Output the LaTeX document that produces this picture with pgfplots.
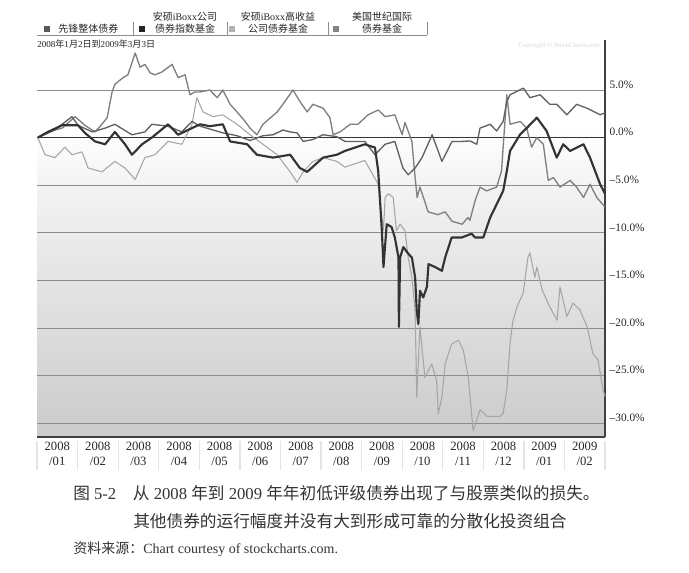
\documentclass[border=0pt]{standalone}
\usepackage{pgfplots}
\pgfplotsset{compat=1.18}
\usepackage{fontspec}
\setmainfont{Liberation Serif}
\newfontfamily\cjk{Noto Sans CJK SC}
\pgfdeclareverticalshading{chartbg}{100bp}{color(0bp)=(black!31); color(30bp)=(black!18); color(56bp)=(black!5); color(64bp)=(white); color(100bp)=(white)}
\begin{document}
\begin{tikzpicture}
\path[use as bounding box] (0,0) rectangle (516.75pt,-429pt);
\begin{axis}[
  at={(27.75pt,-327.75pt)}, anchor=south west,
  width=426pt, height=297.75pt, scale only axis,
  xmin=0, xmax=14, ymin=-31.47, ymax=10.26,
  axis x line*=bottom, axis y line*=right,
  axis line style={black!75, line width=0.9pt},
  xtick={0.5,1.5,2.5,3.5,4.5,5.5,6.5,7.5,8.5,9.5,10.5,11.5,12.5,13.5},
  xticklabels={2008\\/01,2008\\/02,2008\\/03,2008\\/04,2008\\/05,2008\\/06,2008\\/07,2008\\/08,2008\\/09,2008\\/10,2008\\/11,2008\\/12,2009\\/01,2009\\/02},
  xticklabel style={align=center, font=\fontsize{9.5}{11.25}\selectfont, text=black!85},
  xtick style={draw=none},
  ytick style={draw=none},
  major tick length=0pt,
  ymajorgrids, major grid style={black!45, line width=0.5pt},
  ytick={-30,-25,-20,-15,-10,-5,5},
  yticklabels={–30.0\%,–25.0\%,–20.0\%,–15.0\%,–10.0\%,–5.0\%,5.0\%},
  extra y ticks={0}, extra y tick labels={0.0\%},
  extra y tick style={ymajorgrids=true, major grid style={black!80, line width=1.3pt}},
  yticklabel style={font=\fontsize{8.5}{10}\selectfont, text=black!85, yshift=4pt},
  axis background/.style={shade, shading=chartbg},
  clip=false,
]
% 安硕iBoxx高收益公司债券基金
\addplot[black!35, line width=0.8pt, line join=round] coordinates {
(0.02,0) (0.20,-1.8) (0.44,-2.1) (0.69,-1.0) (0.86,-1.8) (1.11,-1.5) (1.26,-3.2) (1.60,-3.6) (1.92,-2.5) (2.17,-3.2) (2.42,-4.4) (2.66,-2.1) (2.91,-1.8) (3.23,-0.4) (3.57,-0.7) (3.82,1.4) (3.94,4.2) (4.09,2.7) (4.34,2.2) (4.58,2.4) (4.93,1.4) (5.25,0.3) (5.57,-0.7) (5.92,-1.8) (6.24,-3.6) (6.41,-4.7) (6.56,-3.6) (6.80,-2.5) (7.05,-2.1) (7.39,-2.5) (7.59,-3.1) (8.08,-2.4) (8.41,-4.9) (8.54,-9.8) (8.58,-6.3) (8.66,-5.9) (8.78,-6.3) (8.86,-9.8) (8.95,-9.1) (9.07,-9.8) (9.15,-12.6) (9.24,-14.7) (9.32,-18.2) (9.36,-27.3) (9.44,-19.9) (9.56,-25.2) (9.73,-23.8) (9.85,-25.5) (9.89,-29.0) (9.98,-27.3) (10.06,-23.8) (10.22,-21.7) (10.39,-21.3) (10.51,-22.4) (10.63,-25.2) (10.75,-30.8) (10.92,-28.6) (11.09,-29.3) (11.41,-29.3) (11.49,-29.0) (11.58,-26.5) (11.66,-21.6) (11.73,-19.3) (11.83,-17.8) (11.98,-16.4) (12.10,-12.6) (12.15,-12.1) (12.27,-14.7) (12.32,-13.6) (12.45,-16.0) (12.64,-17.8) (12.82,-19.2) (12.89,-15.7) (13.06,-18.8) (13.21,-17.4) (13.38,-18.1) (13.56,-19.9) (13.70,-22.7) (13.83,-23.4) (13.95,-26.5) (14.0,-27.2)
};
% 美国世纪国际债券基金
\addplot[black!50, line width=1pt, line join=round] coordinates {
(0.02,0) (0.27,0.6) (0.62,1.0) (0.94,2.2) (1.18,1.3) (1.43,0.6) (1.60,1.4) (1.73,2.1) (1.85,4.8) (1.92,5.6) (2.12,6.3) (2.24,6.6) (2.42,8.9) (2.54,7.4) (2.66,7.7) (2.79,6.8) (2.91,6.6) (3.08,6.9) (3.33,7.7) (3.48,6.3) (3.65,6.6) (3.77,4.5) (3.89,4.8) (4.02,4.8) (4.26,5.0) (4.44,4.2) (4.58,5.0) (4.76,3.5) (4.93,2.7) (5.13,1.7) (5.25,1.0) (5.42,0.3) (5.57,1.4) (5.92,2.7) (6.06,3.5) (6.31,5.0) (6.48,3.8) (6.66,2.7) (6.80,3.5) (7.05,3.1) (7.22,2.1) (7.30,0.3) (7.47,0.6) (7.72,1.4) (7.91,1.4) (8.16,2.4) (8.41,2.9) (8.58,2.2) (8.82,2.4) (9.00,0.3) (9.07,1.6) (9.24,-0.4) (9.32,-4.2) (9.37,-6.3) (9.44,-5.2) (9.64,-7.8) (9.88,-8.1) (10.06,-7.8) (10.23,-8.8) (10.48,-9.1) (10.62,-8.4) (10.67,-8.7) (10.80,-6.6) (10.92,-5.2) (11.08,-5.6) (11.33,-5.2) (11.45,-3.5) (11.49,-1.0) (11.58,4.5) (11.66,1.4) (11.91,1.7) (12.07,1.0) (12.19,-1.0) (12.32,0) (12.48,-0.7) (12.60,-4.5) (12.73,-4.2) (12.89,-5.2) (13.14,-4.5) (13.30,-5.2) (13.47,-6.3) (13.63,-4.9) (13.80,-6.3) (14.0,-7.3)
};
% 先锋整体债券
\addplot[black!62, line width=1pt, line join=round] coordinates {
(0.02,0) (0.44,0.8) (0.86,2.2) (1.01,1.3) (1.36,0.6) (1.68,1.0) (1.92,1.4) (2.34,0.3) (2.66,0.6) (2.83,1.4) (3.23,1.2) (3.57,0.6) (3.82,1.7) (4.02,1.2) (4.34,0.8) (4.58,0.5) (4.93,0.2) (5.25,-0.3) (5.57,0.2) (5.82,0.3) (6.06,0.8) (6.24,0.6) (6.41,0.5) (6.56,-0.4) (6.80,-0.2) (7.05,0.3) (7.39,0.1) (7.59,-0.4) (8.08,-0.4) (8.33,-1.8) (8.58,-0.7) (8.82,-0.4) (9.02,-3.2) (9.15,-3.9) (9.32,-3.2) (9.49,-2.1) (9.74,0.3) (9.98,-2.5) (10.23,-0.4) (10.48,-0.4) (10.67,-0.35) (10.84,-0.7) (10.92,1.0) (11.17,1.4) (11.33,0.7) (11.49,1.7) (11.58,3.8) (11.66,4.5) (11.99,5.2) (12.15,4.2) (12.40,4.5) (12.64,3.5) (12.81,3.5) (13.06,2.4) (13.30,3.5) (13.55,3.1) (13.88,2.4) (14.0,2.6)
};
% 安硕iBoxx公司债券指数基金
\addplot[black!80, line width=1.6pt, line join=round] coordinates {
(0.02,0) (0.27,0.6) (0.62,1.3) (1.01,1.3) (1.18,0.5) (1.43,-0.4) (1.68,-0.7) (1.92,0.6) (2.17,-0.7) (2.34,-1.8) (2.59,-0.7) (2.83,0) (3.23,1.4) (3.48,0.3) (3.82,1.0) (4.02,1.4) (4.26,1.2) (4.58,1.4) (4.76,-0.4) (5.18,-0.7) (5.42,-1.8) (5.82,-2.1) (6.24,-1.8) (6.48,-3.2) (6.66,-3.6) (7.05,-2.1) (7.39,-1.8) (7.59,-1.4) (8.08,-0.7) (8.33,-1.05) (8.41,-3.5) (8.50,-9.8) (8.54,-13.6) (8.62,-9.1) (8.74,-9.4) (8.82,-10.5) (8.91,-12.6) (8.92,-19.9) (8.95,-12.6) (9.03,-11.5) (9.15,-12.2) (9.24,-12.6) (9.32,-14.7) (9.36,-18.2) (9.40,-19.6) (9.44,-16.1) (9.52,-16.8) (9.61,-15.7) (9.65,-13.3) (9.81,-13.6) (9.98,-14.0) (10.06,-12.6) (10.22,-10.5) (10.47,-10.5) (10.71,-10.1) (10.80,-10.5) (11.0,-10.5) (11.17,-8.4) (11.49,-5.6) (11.58,-3.5) (11.66,-1.4) (11.91,0.35) (12.07,1.0) (12.32,2.1) (12.56,0.7) (12.81,-2.1) (12.97,-0.7) (13.14,-1.4) (13.47,-0.7) (13.63,-2.1) (13.88,-4.9) (14.0,-5.9)
};
\end{axis}
\begin{scope}[x=0.75pt,y=-0.75pt]
  % month separators under the axis (light bars)
  \foreach \xx in {37,77.6,118.1,158.7,199.3,239.9,280.4,321,361.6,402.1,442.7,483.3,523.9,564.4,605} {\fill[black!10] ({\xx-0.6},441) rectangle ({\xx+0.6},470);}
  % legend bar
  \fill[black!45] (37,34.6) rectangle (427,35.4);
  \foreach \xx in {133,227,328,427} {\fill[black!45] ({\xx-0.4},35) rectangle ({\xx+0.4},22);}
  \fill[black!65] (44,26) rectangle (50,32);
  \fill[black!85] (139,26) rectangle (145,32);
  \fill[black!30] (229,26) rectangle (235,32);
  \fill[black!48] (333,26) rectangle (339,32);
  \node[anchor=west, inner sep=0, font=\fontsize{7.5}{9}\selectfont\cjk, text=black!85] at (58,29) {先锋整体债券};
  \node[align=center, inner sep=0, font=\fontsize{7.5}{9}\selectfont, text=black!85] at (185,23) {{\cjk 安硕}iBoxx{\cjk 公司}\\{\cjk 债券指数基金}};
  \node[align=center, inner sep=0, font=\fontsize{7.5}{9}\selectfont, text=black!85] at (278,23) {{\cjk 安硕}iBoxx{\cjk 高收益}\\{\cjk 公司债券基金}};
  \node[align=center, inner sep=0, font=\fontsize{7.5}{9}\selectfont, text=black!85] at (382,23) {{\cjk 美国世纪国际}\\{\cjk 债券基金}};
  % date range
  \node[anchor=west, inner sep=0, font=\fontsize{6.8}{8}\selectfont, text=black!85] at (37,44) {2008{\cjk 年}1{\cjk 月}2{\cjk 日到}2009{\cjk 年}3{\cjk 月}3{\cjk 日}};
  \node[anchor=east, inner sep=0, font=\fontsize{5}{6}\selectfont, text=black!15] at (600,46) {Copyright \textcopyright\ StockCharts.com};
  % caption
  \node[anchor=west, inner sep=0, font=\fontsize{12.5}{15}\selectfont, text=black!80] at (73,493) {{\cjk 图} 5-2\hspace{1em}{\cjk 从} 2008 {\cjk 年到} 2009 {\cjk 年年初低评级债券出现了与股票类似的损失。}};
  \node[anchor=west, inner sep=0, font=\fontsize{12.5}{15}\selectfont\cjk, text=black!80] at (133,521) {其他债券的运行幅度并没有大到形成可靠的分散化投资组合};
  \node[anchor=west, inner sep=0, font=\fontsize{10.5}{12}\selectfont, text=black!80] at (73,549) {{\cjk 资料来源：}Chart courtesy of stockcharts.com.};
\end{scope}
\end{tikzpicture}
\end{document}
